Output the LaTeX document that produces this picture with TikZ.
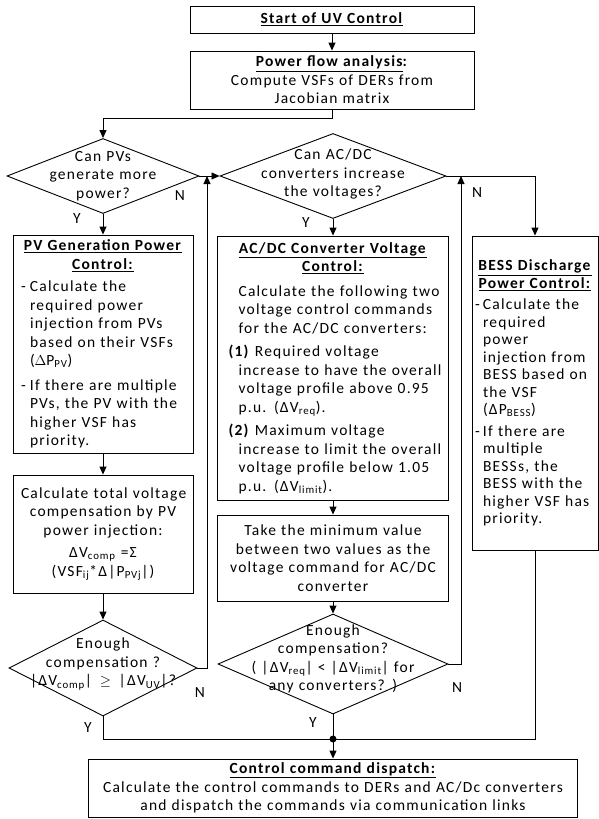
\documentclass[tikz,border=0pt]{standalone}
\usepackage{fontspec}
\setmainfont{Carlito}[LetterSpace=8]
\usetikzlibrary{shapes.geometric, positioning, arrows.meta}

\newcommand{\ttl}[1]{\underline{\textbf{#1}}}
\newcommand{\hitem}[2]{\par\hangindent=#1\hangafter=1\noindent#2\par}
\newcommand{\itemdash}[1]{\makebox[#1][l]{-}}

\begin{document}
\begin{tikzpicture}[x=1pt, y=-1pt, on grid, line width=0.9pt,
  >={Triangle[length=8pt, width=7pt]},
  txt/.style={font=\fontsize{15.5}{18.5}\selectfont},
  block/.style 2 args={txt, draw, rectangle, text width=#1, minimum height=#2,
    inner xsep=8pt, inner ysep=1pt, align=center},
  textblock/.style 2 args={block={#1}{#2}, align=left,
    execute at begin node={\parindent=0pt\hyphenpenalty=10000}},
  decision/.style 2 args={draw, diamond, minimum width=#1, minimum height=#2,
    inner sep=0pt},
  dtext/.style={txt, text width=200pt, align=center, inner sep=0pt},
  yn/.style={txt, inner sep=0pt}]
  \useasboundingbox (0,0) rectangle (599,819);

  % main column
  \node[block={268pt}{27pt}] (start) at (332,19.5) {\ttl{Start of UV Control}};
  \node[block={268pt}{58pt}] (pfa) [below=60.5pt of start]
    {\textbf{\underline{Power flow analysis}:}\\Compute VSFs of DERs from\\Jacobian matrix};

  % PV branch
  \node[decision={192pt}{75pt}] (d1) at (103,176) {};
  \node[dtext] (d1txt) at (d1) {Can PVs\\generate more\\power?};
  \node[textblock={164pt}{218pt}] (pv) [below=168pt of d1]
    {{\centering\ttl{PV Generation Power}\\\ttl{Control:}\par}\vspace{4pt}
     \hitem{9pt}{\itemdash{9pt}Calculate the\newline required power\newline injection from PVs\newline
       based on their VSFs\newline ($\Delta$P\textsubscript{PV})}\vspace{6pt}
     \hitem{9pt}{\itemdash{9pt}If there are multiple\newline PVs, the PV with the\newline
       higher VSF has\newline priority.}};
  \node[block={164pt}{118pt}] (calc) [below=190pt of pv]
    {Calculate total voltage\\compensation by PV\\power injection:\\[4pt]
     ΔV\textsubscript{comp} =Σ\\(VSF\textsubscript{ij}*Δ|P\textsubscript{PVj}|)};
  \node[decision={188pt}{96pt}] (d3) [below=134pt of calc] {};
  \node[dtext, yshift=4pt] (d3txt) at (d3)
    {Enough\\compensation ?\\|ΔV\textsubscript{comp}| \,$\geq$\, |ΔV\textsubscript{UV}|?};

  % AC/DC branch
  \node[decision={226pt}{85pt}] (d2) [right=230pt of d1] {};
  \node[dtext, yshift=2pt] (d2txt) at (d2) {Can AC/DC\\converters increase\\the voltages?};
  \node[textblock={229pt}{264pt}, inner xsep=1pt] (acdc) [below=192pt of d2]
    {{\centering\ttl{AC/DC Converter Voltage}\\\ttl{Control:}\par}\vspace{6pt}
     {\leftskip=20pt \mbox{Calculate the following two}\\\mbox{voltage control commands}\\
       \mbox{for the AC/DC converters:}\par}\vspace{5pt}
     {\leftskip=10pt
     \hitem{10pt}{\mbox{\textbf{(1)} Required voltage}\newline \mbox{increase to have the overall}\newline
       \mbox{voltage profile above 0.95}\newline \mbox{p.u. (ΔV\textsubscript{req}).}}\vspace{5pt}
     \hitem{10pt}{\mbox{\textbf{(2)} Maximum voltage}\newline \mbox{increase to limit the overall}\newline
       \mbox{voltage profile below 1.05}\newline \mbox{p.u. (ΔV\textsubscript{limit}).}}}};
  \node[block={215pt}{86pt}] (minv) [below=190pt of acdc]
    {Take the minimum value\\between two values as the\\voltage command for AC/DC\\converter};
  \node[decision={230pt}{100pt}] (d4) [below=106pt of minv] {};
  \node[dtext, yshift=5pt] (d4txt) at (d4)
    {Enough\\compensation?\\( |ΔV\textsubscript{req}| < |ΔV\textsubscript{limit}| for\\any converters? )};

  % BESS branch
  \node[textblock={120pt}{314pt}, inner xsep=3pt,
    font=\fontsize{15.5}{17.5}\selectfont] (bess) at (535,393)
    {{\centering\ttl{BESS Discharge}\\\ttl{Power Control:}\par}\vspace{4pt}
     \hitem{8pt}{\itemdash{8pt}Calculate the\newline required\newline power\newline injection from\newline
       BESS based on\newline the VSF\newline (ΔP\textsubscript{BESS})}\vspace{4pt}
     \hitem{8pt}{\itemdash{8pt}If there are\newline multiple\newline BESSs, the\newline BESS with the\newline
       higher VSF has\newline priority.}};

  % dispatch
  \node[block={473pt}{58pt}] (dispatch) at (333,788)
    {\ttl{Control command dispatch:}\\Calculate the control commands to DERs and AC/Dc converters\\
     and dispatch the commands via communication links};

  \coordinate (split) at (332,118);
  \coordinate (pvback) at (207,176);
  \coordinate (acback) at (461,176);
  \coordinate (junc) at (333,739);

  \path[->]
    (start) edge (pfa)
    (d1) edge (d2)
    (d1) edge (pv)
        (pv) edge (calc)
        (calc) edge (d3)
    (d2) edge (acdc)
        (acdc) edge (minv)
        (minv) edge (d4)
    (junc) edge (dispatch);

  \draw[->] (pfa.south) -- (split) -| (d1.north);
  \draw[->] (d3.east) -| (pvback);
  \draw[->] (d4.east) -| (acback);
  \draw[->] (d2.east) -| (bess.north);
  \draw (d3.south) |- (junc);
  \draw (d4.south) -- (junc);
  \draw (bess.south) |- (junc);
  \fill (junc) circle (3.5pt);

  % Y / N labels
  \node[yn] (y1) at (77,219) {Y};
  \node[yn] (n1) at (180,196) {N};
  \node[yn] (y2) at (306,223) {Y};
  \node[yn] (n2) at (477,193) {N};
  \node[yn] (y3) at (88,728) {Y};
  \node[yn] (n3) at (200,693) {N};
  \node[yn] (y4) at (313,723) {Y};
  \node[yn] (n4) at (457,688) {N};
\end{tikzpicture}
\end{document}
